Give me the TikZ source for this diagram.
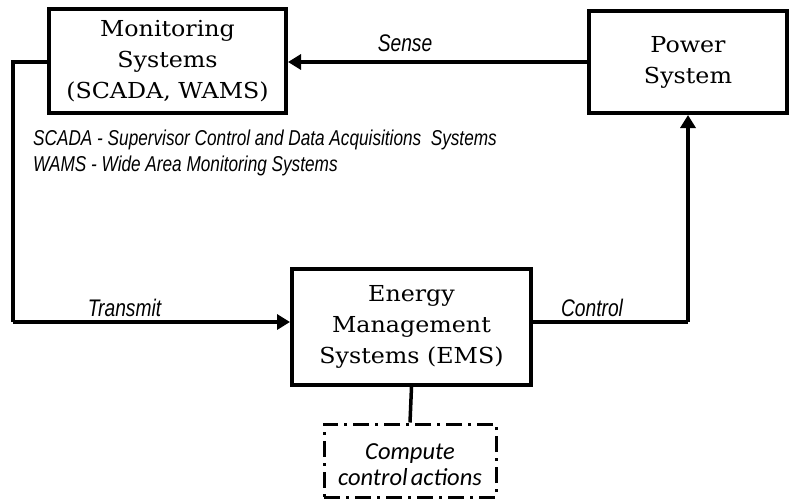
\documentclass[tikz,border=0pt]{standalone}
\usepackage{fontspec}
\setmainfont[FakeStretch=1.08]{DejaVu Serif}
\newfontfamily\labelfont[FakeStretch=0.8]{Liberation Sans}
\newfontfamily\notefont{Carlito}
\usetikzlibrary{arrows.meta}
\begin{document}
\begin{tikzpicture}[x=1pt,y=-1pt,
  block/.style={draw,line width=4pt,align=center,inner sep=0pt,font=\fontsize{22}{31}\selectfont},
  link/.style={line width=3.5pt,-{Triangle[length=13pt,width=15pt]}},
  plain/.style={line width=3.5pt},
  lbl/.style={font=\labelfont\itshape\fontsize{24}{26}\selectfont,inner sep=0pt},
  legend/.style={font=\labelfont\itshape\fontsize{21.5}{27}\selectfont,inner sep=0pt,anchor=base west},
  note/.style={draw,line width=3pt,dash pattern=on 16pt off 6pt on 3pt off 6pt},
  notetext/.style={align=center,inner sep=0pt,font=\notefont\itshape\fontsize{24.5}{26}\selectfont}]
\useasboundingbox (0,0) rectangle (791,501);
% blocks
\node[block,minimum width=237pt,minimum height=104pt] (mon) at (167.5,61) {Monitoring\\Systems\\(SCADA, WAMS)};
\node[block,minimum width=198pt,minimum height=102pt] (pow) at (688,62) {Power\\System};
\node[block,minimum width=239pt,minimum height=116pt] (ems) at (411.5,327) {Energy\\Management\\Systems (EMS)};
% dash-dotted task box and its text
\node[note,minimum width=172pt,minimum height=73pt] (cmp) at (410,460.5) {};
\node[notetext] (cmptext) at ([yshift=-4pt]cmp.center) {Compute\\control\hspace{3pt}actions};
% helper corners
\coordinate (tl) at (13,62);
\coordinate (bl) at (13,322);
\coordinate (br) at (pow.south |- 0,322);
% connectors
\draw[link] (pow.west |- 0,62) -- (mon.east |- 0,62);
\draw[plain] (mon.west |- 0,62) -- (tl) -- (bl);
\draw[link] (bl) -- (ems.west |- 0,322);
\draw[plain] (ems.east |- 0,322) -- (br);
\draw[link] (br) -- (pow.south);
\draw[plain] (ems.south) -- (cmp.north);
% labels
\node[lbl,anchor=base] (sense) at (405,51) {Sense};
\node[lbl,anchor=base] (tx) at (124.5,316) {Transmit};
\node[lbl,anchor=base] (ctl) at (592,316) {Control};
\node[legend] (n1) at (33,145) {SCADA - Supervisor Control and Data Acquisitions\ \ Systems};
\node[legend] (n2) at (33,171) {WAMS - Wide Area Monitoring Systems};
\end{tikzpicture}
\end{document}
